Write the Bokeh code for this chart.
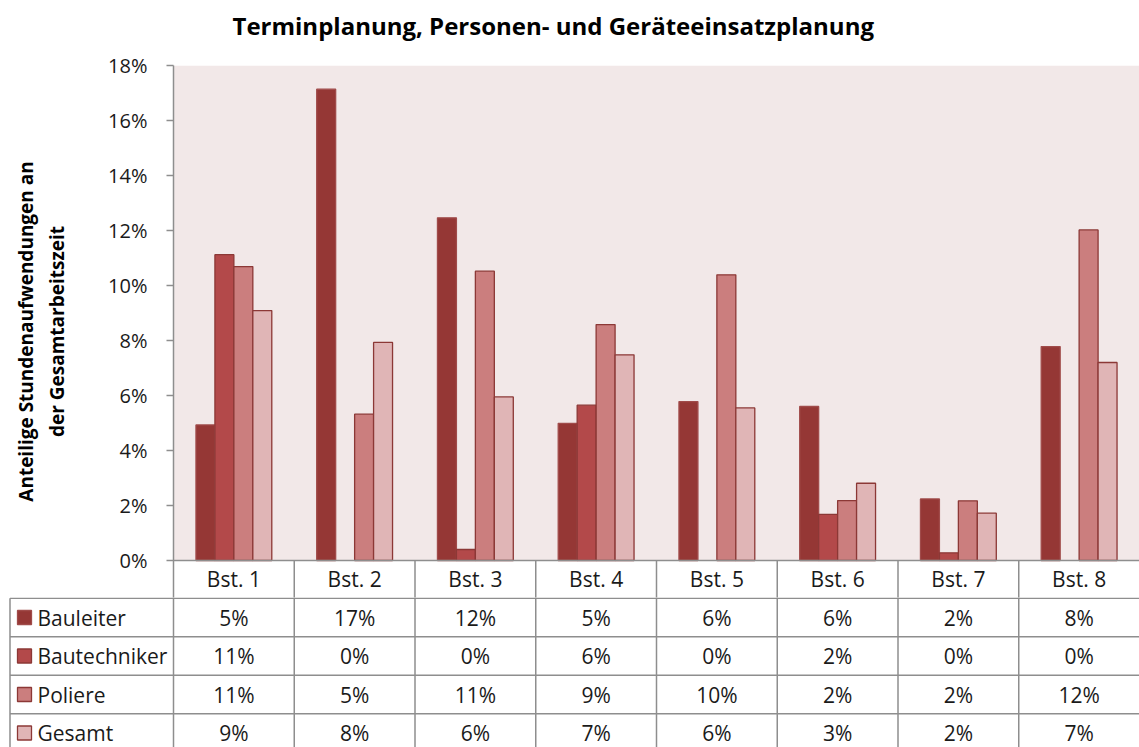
import math
from bokeh.plotting import figure
from bokeh.models import (ColumnDataSource, FactorRange, Range1d, FixedTicker, CDSView, BooleanFilter,
                          BoxAnnotation, Title)
from bokeh.transform import dodge
from bokeh.core.properties import value
from bokeh.embed import file_html
from bokeh.resources import INLINE

# ---------------- data ----------------
categories = ["Bst. 1", "Bst. 2", "Bst. 3", "Bst. 4", "Bst. 5", "Bst. 6", "Bst. 7", "Bst. 8"]
series = ["Bauleiter", "Bautechniker", "Poliere", "Gesamt"]
bauleiter = [4.93, 17.14, 12.46, 4.99, 5.78, 5.60, 2.24, 7.78]
bautechniker = [11.12, 0.0, 0.40, 5.65, 0.0, 1.68, 0.28, 0.0]
poliere = [10.69, 5.32, 10.52, 8.58, 10.39, 2.18, 2.17, 12.02]
gesamt = [9.09, 7.93, 5.95, 7.48, 5.55, 2.81, 1.72, 7.20]
y_ticks = [0, 2, 4, 6, 8, 10, 12, 14, 16, 18]

title_text = "Terminplanung, Personen- und Geräteeinsatzplanung"
y_label = "Anteilige Stundenaufwendungen an\nder Gesamtarbeitszeit"

# ---------------- style ----------------
FONT = "Open Sans"
fills = ["#953735", "#B3494A", "#CB7E7E", "#E0B5B6"]
edges = ["#A04B4A", "#8C3836", "#8C3836", "#8C3836"]
grid_col = "#8E8E8E"
txt_col = "#1a1a1a"

W = 1139
LEFT = 173
TOP = 65
Y_MAX = 18
PX_PER_UNIT_Y = 27.5
HEADER_PX = 37
HEADER = -HEADER_PX / PX_PER_UNIT_Y          # header row of the data table, below 0 %
H_CHART = TOP + int(round((Y_MAX - HEADER) * PX_PER_UNIT_Y))
H_TABLE = 747 - H_CHART
ROW_PX = 38.5
unit_px = (W - LEFT) / len(categories)
n = len(categories)

values = [bauleiter, bautechniker, poliere, gesamt]
src = ColumnDataSource(data=dict(cat=categories, **{s: v for s, v in zip(series, values)}))

# ---------------- chart (with header row) ----------------
p = figure(width=W, height=H_CHART, x_range=FactorRange(*categories), y_range=Range1d(HEADER, Y_MAX),
           x_axis_location=None, output_backend="svg", toolbar_location=None,
           min_border_left=LEFT, min_border_right=0, min_border_top=TOP, min_border_bottom=0)
p.background_fill_color = "white"
p.border_fill_color = "white"
p.outline_line_color = None
p.grid.visible = False
p.add_layout(BoxAnnotation(bottom=0, top=Y_MAX, fill_color="#F2E8E8", fill_alpha=1.0,
                           line_color=None, level="underlay"))

# small empty spacer title (closest to the frame), then the real title above it
p.add_layout(Title(text=" ", text_font_size="10px", standoff=6), "above")
p.add_layout(Title(text=title_text, text_font=FONT, text_font_size="24px", text_font_style="bold",
                   text_color="black", align="left", offset=59), "above")

ax = p.yaxis[0]
ax.ticker = FixedTicker(ticks=y_ticks)
ax.major_label_overrides = {t: f"{t}%" for t in y_ticks}
ax.axis_line_color = grid_col
ax.axis_line_width = 1.5
ax.major_tick_line_color = grid_col
ax.major_tick_line_width = 1.5
ax.major_tick_out = 7
ax.major_tick_in = 0
ax.minor_tick_line_color = None
ax.major_label_text_font = FONT
ax.major_label_text_font_size = "20px"
ax.major_label_text_color = txt_col
ax.major_label_standoff = 19
ax.axis_label = y_label
ax.axis_label_text_font = FONT
ax.axis_label_text_font_size = "19px"
ax.axis_label_text_font_style = "bold"
ax.axis_label_text_color = "black"
ax.axis_label_standoff = 35

bw = 0.157
offsets = [-1.5 * bw, -0.5 * bw, 0.5 * bw, 1.5 * bw]
for s, vals, off, fc, lc in zip(series, values, offsets, fills, edges):
    view = CDSView(filter=BooleanFilter([v > 0 for v in vals]))
    p.vbar(x=dodge("cat", off, range=p.x_range), top=s, width=bw, source=src, view=view,
           fill_color=fc, line_color=lc, line_width=1.3)

# x axis line at 0 % and header-row separators
p.segment(x0=[0], y0=[0], x1=[n], y1=[0], line_color=grid_col, line_width=1.5)
p.segment(x0=list(range(1, n)), y0=[0] * (n - 1), x1=list(range(1, n)), y1=[HEADER - 1] * (n - 1),
          line_color=grid_col, line_width=1.5)
p.text(x=categories, y=[HEADER / 2] * n, text=categories,
       text_font=value(FONT), text_font_size="21px", text_align="center",
       text_baseline="middle", text_color=txt_col)

# ---------------- data table rows ----------------
x0 = -LEFT / unit_px
rows = len(series)
y_top = -0.5 + 0.02
y_bottom = y_top - H_TABLE / ROW_PX
t = figure(width=W, height=H_TABLE, x_range=Range1d(x0, n), y_range=Range1d(y_bottom, y_top),
           x_axis_location=None, y_axis_location=None, output_backend="svg", toolbar_location=None,
           min_border=0)
t.outline_line_color = None
t.grid.visible = False
t.background_fill_color = "white"
t.border_fill_color = "white"

left_edge = x0 + 9.5 / unit_px
t.segment(x0=list(range(n)), y0=[0] * n, x1=list(range(n)), y1=[-rows - 1] * n,
          line_color=grid_col, line_width=1.5)
t.segment(x0=[left_edge], y0=[-0.5], x1=[left_edge], y1=[-rows - 1], line_color=grid_col, line_width=1.5)
hy = [-0.5 - i for i in range(rows + 1)]
t.segment(x0=[left_edge] * len(hy), y0=hy, x1=[n] * len(hy), y1=hy, line_color=grid_col, line_width=1.5)

for r, (s, vals) in enumerate(zip(series, values)):
    labels = [f"{int(math.floor(v + 0.5))}%" for v in vals]
    t.text(x=[i + 0.5 for i in range(n)], y=[-(r + 1)] * n, text=labels,
           text_font=value(FONT), text_font_size="21px", text_align="center",
           text_baseline="middle", text_color=txt_col)

rows_y = [-(r + 1) for r in range(rows)]
t.scatter(x=[x0 + 24 / unit_px] * rows, y=rows_y, marker="square", size=14,
          fill_color=fills, line_color=edges, line_width=1.3)
t.text(x=[x0 + 37 / unit_px] * rows, y=rows_y, text=series,
       text_font=value(FONT), text_font_size="21px", text_align="left",
       text_baseline="middle", text_color=txt_col)

open("out.html", "w").write(file_html([p, t], INLINE))
